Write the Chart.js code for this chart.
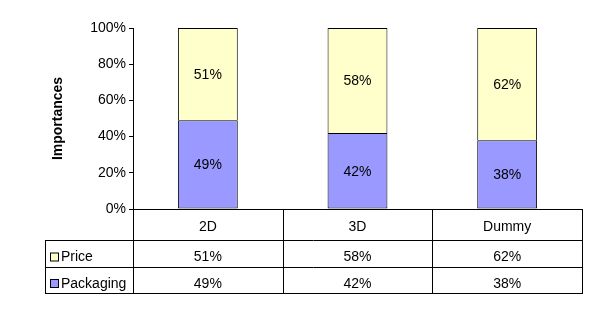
<!DOCTYPE html>
<html>
<head>
<meta charset="utf-8">
<script src="https://cdn.jsdelivr.net/npm/chart.js@4"></script>
<style>
  body { margin: 0; background: #fff; }
  #wrap { width: 606px; height: 324px; }
</style>
</head>
<body>
<div id="wrap"><canvas id="importChart" width="606" height="324"></canvas></div>
<script>
const categories = ['2D', '3D', 'Dummy'];
const priceValues = [51, 58, 62];
const packagingValues = [49, 42, 38];
const yTicks = [0, 20, 40, 60, 80, 100];

const FONT = 'Liberation Sans, Arial, sans-serif';

// labels inside the bar segments
const segmentLabels = {
    id: 'segmentLabels',
    afterDatasetsDraw(chart) {
        const ctx = chart.ctx;
        ctx.save();
        ctx.font = '14px ' + FONT;
        ctx.fillStyle = '#000';
        ctx.textAlign = 'center';
        ctx.textBaseline = 'middle';
        chart.data.datasets.forEach((ds, di) => {
            chart.getDatasetMeta(di).data.forEach((bar, i) => {
                const mid = (bar.y + bar.base) / 2;
                ctx.fillText(ds.data[i] + '%', bar.x, mid + 1);
            });
        });
        ctx.restore();
    }
};

// Excel style data table under the plot
const dataTable = {
    id: 'dataTable',
    afterDraw(chart) {
        const ctx = chart.ctx;
        const area = chart.chartArea;
        const n = categories.length;
        const colW = (area.right - area.left) / n;
        const top = area.bottom;
        const row1 = top + 31;
        const row2 = row1 + 27;
        const bottom = row2 + 26;
        const legendLeft = 45;
        const rows = [
            { name: 'Price', color: '#FFFFCC', values: priceValues, y: row1, h: row2 - row1 },
            { name: 'Packaging', color: '#9999FF', values: packagingValues, y: row2, h: bottom - row2 }
        ];

        ctx.save();
        ctx.strokeStyle = '#000';
        ctx.lineWidth = 1;
        ctx.beginPath();
        // horizontal lines
        ctx.moveTo(area.left, top + 0.5); ctx.lineTo(area.right, top + 0.5);
        ctx.moveTo(legendLeft, row1 + 0.5); ctx.lineTo(area.right, row1 + 0.5);
        ctx.moveTo(legendLeft, row2 + 0.5); ctx.lineTo(area.right, row2 + 0.5);
        ctx.moveTo(legendLeft, bottom + 0.5); ctx.lineTo(area.right + 1, bottom + 0.5);
        // vertical lines
        for (let i = 0; i <= n; i++) {
            const x = Math.round(area.left + i * colW) + 0.5;
            ctx.moveTo(x, top); ctx.lineTo(x, bottom);
        }
        ctx.moveTo(legendLeft + 0.5, row1); ctx.lineTo(legendLeft + 0.5, bottom);
        ctx.stroke();

        ctx.font = '14px ' + FONT;
        ctx.fillStyle = '#000';
        ctx.textBaseline = 'middle';
        ctx.textAlign = 'center';
        categories.forEach((c, i) => {
            ctx.fillText(c, area.left + (i + 0.5) * colW, top + 18);
        });

        rows.forEach(r => {
            const cy = r.y + r.h / 2 + 4;
            ctx.fillStyle = r.color;
            ctx.fillRect(legendLeft + 5.5, cy - 4.5, 8, 8);
            ctx.strokeRect(legendLeft + 5.5, cy - 4.5, 8, 8);
            ctx.fillStyle = '#000';
            ctx.textAlign = 'left';
            ctx.fillText(r.name, legendLeft + 16, cy);
            ctx.textAlign = 'center';
            r.values.forEach((v, i) => {
                ctx.fillText(v + '%', area.left + (i + 0.5) * colW, cy);
            });
        });
        ctx.restore();
    }
};

const ctx = document.getElementById('importChart').getContext('2d');
const importChart = new Chart(ctx, {
    type: 'bar',
    data: {
        labels: categories,
        datasets: [
            {
                label: 'Packaging',
                data: packagingValues,
                backgroundColor: '#9999FF',
                borderColor: '#000',
                borderWidth: 1,
                borderSkipped: false
            },
            {
                label: 'Price',
                data: priceValues,
                backgroundColor: '#FFFFCC',
                borderColor: '#000',
                borderWidth: 1,
                borderSkipped: 'start'
            }
        ]
    },
    options: {
        responsive: false,
        animation: false,
        layout: {
            padding: { left: 0, right: 24, top: 28, bottom: 115 }
        },
        plugins: {
            legend: { display: false },
            tooltip: { enabled: false }
        },
        datasets: {
            bar: { categoryPercentage: 1, barPercentage: 0.4 }
        },
        scales: {
            x: {
                stacked: true,
                display: false
            },
            y: {
                stacked: true,
                min: 0,
                max: 100,
                afterFit(scale) { scale.width = 133; },
                afterBuildTicks(scale) { scale.ticks = yTicks.map(v => ({ value: v })); },
                ticks: {
                    color: '#000',
                    font: { family: FONT, size: 14 },
                    padding: 3,
                    callback: v => v + '%'
                },
                grid: {
                    drawOnChartArea: false,
                    drawTicks: true,
                    tickLength: 4,
                    color: '#000'
                },
                border: { display: true, color: '#000' },
                title: {
                    display: true,
                    text: 'Importances',
                    color: '#000',
                    font: { family: FONT, size: 14, weight: 'bold' },
                    padding: { top: 50, bottom: 0 }
                }
            }
        }
    },
    plugins: [segmentLabels, dataTable]
});
</script>
</body>
</html>
